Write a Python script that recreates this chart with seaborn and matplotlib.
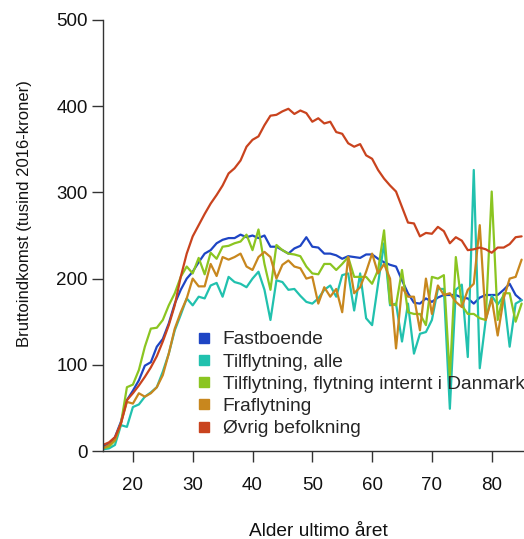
import numpy as np
import pandas as pd
import matplotlib
matplotlib.use('Agg')
import matplotlib.pyplot as plt
from matplotlib.lines import Line2D
import seaborn as sns

# Ages and income series (thousand 2016-kroner)
ages = list(range(15, 86))

fastboende = [5, 8, 16, 34, 59, 70, 82, 99, 103, 121, 130, 148, 171, 187, 200, 208, 219, 229, 233, 241,
              245, 247, 247, 251, 248, 250, 247, 250, 237, 237, 233, 229, 235, 238, 248, 237, 236, 229, 229, 227,
              223, 226, 225, 224, 228, 228, 223, 219, 216, 214, 198, 183, 172, 171, 177, 173, 178, 181, 181, 181,
              178, 177, 171, 178, 181, 181, 181, 187, 194, 181, 175]

tilflyt_alle = [2, 3, 7, 30, 28, 51, 54, 63, 68, 74, 92, 113, 140, 158, 177, 169, 179, 177, 192, 195,
                179, 202, 196, 194, 190, 200, 208, 187, 152, 198, 196, 187, 188, 180, 173, 171, 177, 187, 192, 179,
                204, 206, 163, 206, 154, 146, 194, 241, 169, 171, 127, 171, 113, 136, 138, 152, 188, 188, 49, 187,
                193, 109, 326, 96, 152, 180, 170, 180, 121, 171, 175]

tilflyt_dk = [3, 5, 12, 32, 74, 77, 94, 121, 142, 143, 152, 169, 183, 202, 214, 206, 224, 205, 230, 223,
              237, 238, 241, 243, 251, 233, 257, 217, 187, 239, 233, 229, 228, 226, 214, 206, 205, 217, 217, 210,
              217, 225, 202, 202, 202, 194, 210, 256, 171, 169, 210, 161, 159, 159, 146, 202, 200, 204, 85, 225,
              169, 159, 159, 154, 152, 301, 152, 183, 183, 150, 171]

fraflyt = [3, 7, 13, 32, 57, 55, 67, 63, 67, 74, 88, 113, 142, 161, 177, 200, 191, 191, 217, 203,
           225, 222, 225, 229, 214, 210, 225, 231, 225, 200, 216, 221, 214, 212, 200, 202, 171, 190, 179, 188,
           161, 225, 183, 190, 208, 229, 206, 217, 200, 119, 190, 179, 179, 140, 200, 159, 192, 181, 183, 173,
           167, 187, 194, 262, 152, 177, 134, 177, 200, 202, 222]

oevrig = [7, 10, 16, 32, 59, 67, 76, 86, 97, 110, 127, 146, 169, 202, 229, 249, 262, 275, 287, 297,
          308, 322, 328, 337, 353, 361, 365, 378, 389, 390, 394, 397, 391, 395, 392, 382, 386, 380, 382, 370,
          368, 357, 353, 356, 343, 339, 326, 316, 308, 301, 283, 265, 264, 249, 253, 252, 260, 255, 241, 248,
          244, 233, 234, 236, 234, 230, 236, 236, 240, 248, 249]

groups = ['Fastboende', 'Tilflytning, alle', 'Tilflytning, flytning internt i Danmark',
          'Fraflytning', 'Øvrig befolkning']
colors = ['#1E45C4', '#21C1AE', '#8BC521', '#C8871E', '#C9431E']

df = pd.concat([
    pd.DataFrame({'alder': ages, 'indkomst': vals, 'gruppe': g})
    for g, vals in zip(groups, [fastboende, tilflyt_alle, tilflyt_dk, fraflyt, oevrig])
])

sns.set_style('white')
plt.rcParams['font.family'] = ['Liberation Sans', 'DejaVu Sans']

fig = plt.figure(figsize=(5.24, 5.39), dpi=100)
ax = fig.add_axes([103 / 524, 88 / 539, 421 / 524, 431 / 539])

sns.lineplot(data=df, x='alder', y='indkomst', hue='gruppe', hue_order=groups,
             palette=colors, linewidth=1.6, legend=False, ax=ax)

ax.set_xlim(15, 85.4)
ax.set_ylim(0, 500)
ax.set_xticks([20, 30, 40, 50, 60, 70, 80])
ax.set_yticks([0, 100, 200, 300, 400, 500])
ax.set_xlabel('')
ax.set_ylabel('')

for s in ['top', 'right']:
    ax.spines[s].set_visible(False)
for s in ['left', 'bottom']:
    ax.spines[s].set_color('#333333')
    ax.spines[s].set_linewidth(1.0)
ax.tick_params(axis='both', bottom=True, left=True, direction='out', length=8, width=1.0,
               color='#333333', labelsize=13.5, labelcolor='#111111')
ax.tick_params(axis='x', pad=11)
ax.tick_params(axis='y', pad=3)

fig.text(25 / 524, 1 - 214 / 539, 'Bruttoindkomst (tusind 2016-kroner)', rotation=90,
         ha='center', va='center', fontsize=12, color='#111111')
fig.text(318 / 524, 1 - 531 / 539, 'Alder ultimo året', ha='center', va='center',
         fontsize=13.8, color='#111111')

handles = [Line2D([], [], marker='s', linestyle='none', markersize=7,
                  markerfacecolor=c, markeredgecolor=c) for c in colors]
ax.legend(handles, groups, loc='upper left', bbox_to_anchor=(196 / 524, 1 - 331 / 539),
          bbox_transform=fig.transFigure, frameon=False, fontsize=13.8,
          handlelength=0.8, handletextpad=0.6, labelspacing=0.25, borderpad=0, borderaxespad=0)

fig.savefig('out.png', dpi=100)
